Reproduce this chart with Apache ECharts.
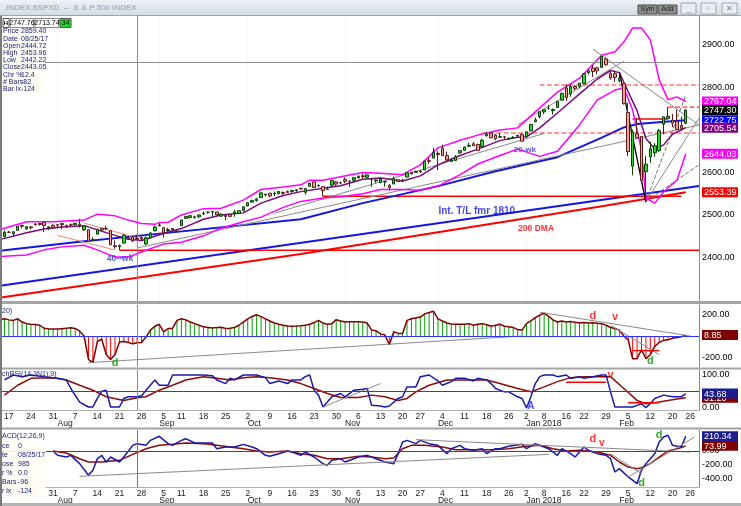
<!DOCTYPE html>
<html><head><meta charset="utf-8">
<script src="https://cdn.jsdelivr.net/npm/echarts@6/dist/echarts.min.js"></script>
<style>html,body{margin:0;padding:0;background:#fff;overflow:hidden}#c{width:741px;height:506px}</style>
</head><body><div id="c"></div><script>
// ---------------- DATA ----------------
const tradingDays = {
  '2017-07': [13,14,17,18,19,20,21,24,25,26,27,28,31],
  '2017-08': [1,2,3,4,7,8,9,10,11,14,15,16,17,18,21,22,23,24,25,28,29,30,31],
  '2017-09': [1,5,6,7,8,11,12,13,14,15,18,19,20,21,22,25,26,27,28,29],
  '2017-10': [2,3,4,5,6,9,10,11,12,13,16,17,18,19,20,23,24,25,26,27,30,31],
  '2017-11': [1,2,3,6,7,8,9,10,13,14,15,16,17,20,21,22,24,27,28,29,30],
  '2017-12': [1,4,5,6,7,8,11,12,13,14,15,18,19,20,21,22,26,27,28,29],
  '2018-01': [2,3,4,5,8,9,10,11,12,16,17,18,19,22,23,24,25,26,29,30,31],
  '2018-02': [1,2,5,6,7,8,9,12,13,14,15,16,20,21,22,23]
};
const futureDays = ['2018-02-26','2018-02-27','2018-02-28'];

const opens = [
2444.99,2449.16,2459.50,2455.88,2463.85,2475.56,2467.40,2472.04,2477.88,2479.97,2482.76,2469.12,2475.94,
2477.10,2480.38,2476.03,2476.88,2477.14,2478.35,2465.35,2465.38,2441.04,2454.96,2468.66,2468.63,2462.95,2427.64,2425.50,2433.75,2444.88,2447.91,2444.72,2447.35,2431.94,2446.06,2462.65,
2474.42,2470.35,2463.83,2468.06,2462.25,2474.52,2491.94,2493.89,2494.56,2495.67,2502.51,2506.29,2506.84,2507.16,2497.26,2499.39,2501.04,2503.30,2503.41,2510.70,
2521.20,2530.34,2533.48,2540.86,2547.44,2551.39,2549.99,2550.62,2552.88,2555.66,2555.57,2557.17,2562.87,2553.39,2567.56,2578.08,2568.66,2566.52,2560.08,2570.26,2577.75,2575.99,
2583.21,2579.46,2581.93,2587.47,2592.11,2588.71,2584.00,2580.18,2576.53,2577.75,2569.45,2572.95,2582.94,2579.49,2589.17,2600.31,2600.42,2602.66,2605.94,2627.82,2633.93,
2645.10,2657.19,2639.78,2626.24,2628.38,2646.21,2652.19,2661.73,2667.59,2665.87,2660.63,2685.92,2692.71,2688.18,2683.02,2684.22,2679.09,2682.10,2686.10,2689.15,
2683.73,2697.85,2719.31,2731.33,2742.67,2751.15,2745.55,2752.97,2770.18,2798.96,2784.99,2802.40,2802.60,2809.16,2835.05,2845.42,2846.24,2847.48,2867.23,2832.74,2832.41,
2816.45,2808.92,2741.06,2614.78,2690.95,2685.01,2601.78,2636.75,2646.27,2651.21,2713.46,2727.14,2722.99,2720.53,2710.42,2715.80];
const highs = [
2449.32,2463.54,2462.82,2460.92,2473.83,2477.62,2472.54,2473.10,2481.24,2481.69,2484.04,2473.53,2477.96,
2478.51,2480.38,2476.03,2480.00,2480.95,2490.87,2474.41,2465.38,2448.09,2468.22,2468.90,2474.93,2465.02,2440.27,2430.58,2454.77,2448.91,2450.39,2453.96,2449.12,2449.19,2460.31,2475.01,
2480.38,2471.97,2469.64,2468.62,2467.11,2488.95,2496.77,2498.37,2498.43,2500.23,2508.32,2507.84,2508.85,2507.16,2503.47,2502.54,2503.51,2511.75,2510.81,2519.44,
2529.23,2535.13,2540.53,2552.51,2549.41,2551.82,2555.23,2555.24,2555.33,2557.65,2559.47,2559.71,2564.11,2562.36,2575.44,2578.29,2572.18,2567.40,2567.07,2582.98,2580.03,2578.29,
2588.40,2581.11,2588.42,2593.38,2597.02,2595.47,2586.50,2583.81,2587.66,2579.66,2572.84,2590.09,2583.96,2584.64,2601.19,2600.94,2604.21,2606.41,2627.69,2634.89,2657.74,
2650.62,2665.19,2648.72,2634.41,2640.99,2651.65,2660.33,2669.72,2671.88,2668.09,2679.63,2694.97,2694.44,2691.01,2692.64,2685.35,2682.74,2685.64,2687.66,2692.12,
2695.89,2714.37,2729.29,2743.45,2748.51,2759.14,2750.80,2767.56,2787.85,2807.54,2807.04,2805.83,2810.33,2833.03,2842.24,2852.97,2848.56,2872.87,2870.62,2837.75,2839.26,
2835.96,2808.92,2763.39,2701.04,2727.67,2685.27,2638.67,2672.61,2668.84,2702.10,2731.51,2754.42,2737.60,2747.75,2731.26,2747.76];
const lows = [
2441.69,2446.69,2457.16,2450.34,2463.85,2468.43,2465.06,2466.32,2474.91,2474.94,2459.93,2464.66,2468.53,
2471.14,2466.48,2468.85,2472.08,2475.88,2470.32,2462.08,2437.75,2437.85,2454.96,2461.61,2463.86,2430.01,2420.69,2417.35,2433.67,2441.42,2436.19,2442.22,2439.03,2428.20,2443.77,2462.65,
2473.85,2446.55,2459.20,2460.29,2459.40,2474.52,2490.37,2492.14,2491.35,2493.16,2499.92,2503.19,2496.67,2499.00,2496.54,2488.03,2495.12,2495.91,2502.93,2507.99,
2520.40,2528.85,2531.80,2540.02,2543.79,2541.60,2544.86,2547.95,2548.31,2552.09,2552.64,2554.69,2559.67,2547.92,2567.56,2564.33,2565.58,2544.00,2559.80,2565.94,2568.25,2572.15,
2574.92,2566.17,2576.77,2585.66,2584.35,2585.02,2566.33,2575.57,2574.48,2566.56,2557.45,2572.95,2577.62,2578.24,2589.17,2595.23,2600.42,2598.87,2605.44,2620.32,2633.93,
2605.52,2639.03,2627.73,2624.75,2626.53,2644.10,2651.47,2659.78,2662.85,2652.01,2659.14,2685.92,2680.74,2676.11,2682.40,2678.13,2677.96,2678.91,2682.69,2673.61,
2682.36,2697.77,2719.07,2727.92,2737.60,2747.86,2736.06,2752.78,2769.64,2768.64,2778.38,2792.56,2798.08,2808.12,2830.59,2824.81,2830.94,2846.18,2851.48,2818.27,2813.04,
2812.70,2759.97,2638.17,2593.07,2681.33,2580.56,2532.69,2622.45,2637.08,2648.87,2689.82,2725.11,2706.76,2701.29,2697.77,2713.74];
const closes = [
2447.83,2459.27,2459.14,2460.61,2473.83,2473.45,2472.54,2469.91,2477.13,2477.83,2475.42,2472.10,2470.30,
2476.35,2477.57,2472.16,2476.83,2480.91,2474.92,2474.02,2438.21,2441.32,2465.84,2464.61,2468.11,2430.01,2425.55,2428.37,2452.51,2444.04,2438.97,2443.05,2444.24,2446.30,2457.59,2471.65,
2476.55,2457.85,2465.54,2465.10,2461.43,2488.11,2496.48,2498.37,2495.62,2500.23,2503.87,2506.65,2508.24,2500.60,2502.22,2496.66,2496.84,2507.04,2510.06,2519.36,
2529.12,2534.58,2537.74,2552.07,2549.33,2544.73,2550.64,2555.24,2550.93,2553.17,2557.64,2559.36,2561.26,2562.10,2575.21,2564.98,2569.13,2557.15,2560.40,2581.07,2572.83,2575.26,
2579.36,2579.85,2587.84,2591.13,2590.64,2594.38,2584.62,2582.30,2584.84,2578.87,2564.62,2585.64,2578.85,2582.14,2599.03,2597.08,2602.42,2601.42,2627.04,2626.07,2647.58,
2642.22,2639.44,2629.57,2629.27,2636.98,2651.50,2659.99,2664.11,2662.85,2652.01,2675.81,2690.16,2681.47,2679.25,2684.57,2683.34,2680.50,2682.62,2687.54,2673.61,
2695.81,2713.06,2723.99,2743.15,2747.71,2751.29,2748.23,2767.56,2786.24,2776.42,2802.56,2798.03,2810.30,2832.97,2839.13,2837.54,2839.25,2872.87,2853.53,2822.43,2823.81,
2821.98,2762.13,2648.94,2695.14,2681.66,2581.00,2619.55,2656.00,2662.94,2698.63,2731.20,2732.22,2716.26,2701.33,2703.96,2747.30];

// main-panel indicator lines, [bar number, value] read at points along each line
const upperBand = [[0,2466],[1,2469],[6,2484],[12,2484],[19,2488],[22,2502],[26,2498],[29,2488],[32,2480],[35,2478],[36,2482],[38,2483],[41,2500],[46,2515],[50,2516],[55,2535],[59,2560],[64,2566],[68,2571],[70,2582],[73,2582],[77,2590],[82,2600],[86,2598],[91,2595],[95,2618],[99,2658],[104,2676],[108,2688],[113,2700],[117,2705],[122,2752],[126,2789],[131,2822],[135,2865],[136,2876],[139,2884],[141,2907],[143,2940],[145,2940],[147,2912],[149,2818],[151,2771],[153,2778],[155,2767.04]];
const lowerBand = [[0,2402],[1,2403],[6,2406],[10,2418],[14,2425],[19,2429],[22,2418],[26,2401],[29,2401],[32,2413],[37,2432],[41,2436],[46,2451],[50,2469],[55,2484],[59,2495],[64,2518],[68,2532],[73,2540],[77,2543],[82,2550],[86,2560],[91,2560],[95,2558],[99,2568],[104,2595],[108,2620],[113,2640],[117,2655],[122,2638],[126,2650],[131,2712],[135,2771],[139,2794],[141,2799],[143,2747],[145,2653],[146,2540],[148,2528],[150,2554],[152,2573],[153,2582],[155,2644.03]];
const purpleMA = [[0,2443],[1,2445],[6,2458],[10,2467],[14,2472],[19,2475],[22,2465],[26,2452],[29,2443],[32,2440],[35,2450],[38,2460],[41,2468],[46,2490],[50,2500],[55,2505],[59,2528],[64,2546],[68,2555],[73,2563],[77,2569],[82,2584],[86,2587],[91,2580],[95,2592],[99,2618],[104,2640],[108,2655],[113,2675],[117,2683],[119,2684],[122,2705],[126,2740],[131,2785],[135,2820],[138,2840],[140,2835],[142,2790],[144,2745],[146,2680],[148,2655],[150,2665],[152,2690],[155,2705.54]];
const blueMA = [[0,2416],[1,2417],[18,2437],[35,2455],[68,2490],[82,2528],[99,2568],[112,2603],[126,2636],[136,2682],[141,2706],[144,2714],[151,2720],[155,2722.75]];
const dma200 = [[0,2305],[1,2307],[68,2408],[135,2519],[155,2553.39]];
const intTrendLine = [[0,2333.8],[158,2568.2]];
const augLowLine = [[27,2417.35],[158,2417.35]];
const octLowLine = [[73,2544.00],[154,2544.00]];
const grayLines = [[[31,2422.4],[158,2711.8]], [[62,2504],[123,2692]], [[117,2712],[141,2862]], [[134,2890.6],[158,2711.8]], [[146,2532],[158,2728]]];
const grayDashLines = [[[146,2532],[155,2782]], [[146,2532],[158,2618]]];
const blackLines = [[[140,2836.5],[146,2530]]];
const salmonLines = [[[13,2452],[26,2417.6]], [[19,2481],[31,2446]]];
const redDashLevels = [[[122,2805.9],[158,2805.9]], [[151,2754],[158,2754]], [[109,2692.9],[158,2692.9]]];
const redShortLevels = [[[143,2725.9],[151,2725.9]]];
const cursorDate = '2017-08-25';
const cursorPrice = 2859.40;

// oscillator panel (20)
const osc20 = [150,160,150,145,160,130,115,110,108,100,72,66,64,64,68,72,76,70,45,0,-218,-248,-52,-30,-173,-218,-173,-55,-52,-60,-73,-62,-60,-10,55,91,109,39,70,70,145,160,150,130,115,100,85,80,75,78,82,70,72,78,100,130,160,182,197,180,160,140,121,110,100,92,91,92,95,100,110,125,145,120,110,115,152,140,130,133,133,132,130,120,55,48,20,9,-82,39,24,24,145,160,168,176,206,218,230,160,140,121,112,109,109,110,115,100,110,115,105,91,100,110,91,85,80,60,55,115,140,170,195,212,182,150,130,140,130,135,128,122,125,120,124,118,115,100,79,70,55,0,-36,-212,-212,-127,-212,-173,-97,-61,-40,-36,-21,-15,-6,8.85];
const oscGrayLines = [[[20,-248],[118,0]], [[122,221],[156,0]], [[138,100],[149,-173]]];
const oscRedLevels = [[[143,-136],[149,-136]]];

// Stoch RSI panel
const stochFast = [[1,85],[3,100],[5,95],[7,100],[10,95],[12,92],[13,90],[15,85],[16,59],[18,18],[20,3],[21,3],[22,29],[23,51],[24,54],[25,3],[27,3],[28,29],[29,34],[31,34],[32,37],[33,54],[35,85],[36,69],[38,69],[39,100],[41,100],[43,100],[46,100],[48,98],[49,85],[51,74],[52,90],[53,85],[55,100],[56,100],[58,100],[60,92],[61,74],[63,82],[65,74],[66,85],[68,85],[69,95],[70,100],[71,54],[72,39],[73,3],[74,18],[75,34],[77,44],[78,34],[80,54],[82,57],[83,59],[84,8],[86,6],[87,3],[88,6],[90,29],[91,34],[92,64],[94,64],[95,95],[97,100],[99,82],[100,69],[102,80],[103,90],[105,90],[107,82],[108,90],[110,85],[111,74],[112,59],[114,49],[115,49],[117,34],[118,29],[119,0],[120,34],[121,74],[122,95],[123,100],[125,100],[126,95],[128,100],[129,90],[131,95],[132,90],[134,95],[136,100],[137,100],[138,49],[139,3],[141,3],[143,3],[144,8],[145,13],[146,1],[147,13],[148,29],[150,39],[152,34],[154,34],[155,43.68]];
const stochSlow = [[1,39],[4,69],[7,90],[12,92],[15,85],[18,69],[21,54],[24,34],[28,23],[31,31],[33,34],[36,54],[39,69],[42,85],[46,95],[49,90],[52,85],[55,92],[58,95],[61,92],[65,85],[68,74],[71,59],[74,44],[77,32],[81,32],[84,39],[87,34],[90,23],[92,29],[94,49],[97,69],[101,85],[104,85],[107,85],[110,85],[113,74],[117,59],[120,49],[123,64],[126,80],[129,92],[132,95],[136,95],[138,95],[141,59],[144,23],[146,13],[149,18],[153,27],[155,31.2]];
const stochRedLevels = [[[128,78],[137,78]], [[142,16],[149,16]]];
const stochGrayLines = [[[73,3],[86,74]]];

// MACD panel
const macdLine = [[12,0],[13,-62],[15,-86],[16,-62],[18,-181],[20,-347],[21,-276],[22,-110],[23,-62],[24,-157],[25,-86],[27,-157],[28,-86],[30,81],[31,105],[33,81],[34,152],[36,210],[38,105],[39,81],[41,152],[42,176],[44,114],[46,114],[48,114],[49,33],[51,57],[53,57],[55,95],[57,57],[58,33],[60,-62],[61,-76],[63,-38],[65,0],[66,-14],[68,-62],[69,-14],[71,-86],[73,-181],[74,-205],[75,-133],[77,-110],[78,-157],[81,-86],[83,-62],[85,-110],[87,-157],[89,-181],[90,-38],[91,129],[92,152],[94,105],[95,152],[97,105],[99,81],[101,-38],[102,33],[104,81],[105,33],[107,10],[109,33],[110,-38],[112,33],[113,33],[115,67],[118,95],[119,33],[121,105],[122,81],[124,33],[126,-62],[127,33],[129,-38],[130,-86],[132,57],[133,10],[135,-38],[137,-62],[138,-110],[139,-300],[140,-252],[142,-371],[144,-467],[145,-276],[146,-181],[148,-38],[149,129],[150,200],[151,224],[152,81],[154,57],[155,210.34]];
const macdSignal = [[12,0],[15,-29],[18,-110],[20,-157],[23,-157],[27,-133],[30,-48],[33,33],[36,81],[39,95],[42,114],[46,105],[49,81],[52,57],[55,33],[58,0],[61,-14],[65,0],[68,-38],[71,-62],[74,-110],[77,-110],[81,-76],[84,-86],[87,-110],[89,-100],[91,33],[93,81],[96,81],[100,57],[103,19],[107,19],[111,19],[115,33],[119,67],[122,81],[125,33],[128,0],[131,10],[135,-14],[138,-62],[140,-157],[142,-229],[144,-252],[145,-238],[147,-181],[149,-86],[151,0],[154,48],[155,73.99]];
const macdGrayLines = [[[18,-362],[124,-48]], [[94,162],[156,-14]], [[138,-38],[145,-324]], [[142,-371],[157,200]]];

// right-axis tick labels (drawn before / after the coloured value tags)
const priceTicksBefore = [2400,2500,2600,2800], priceTicksAfter = [2900];
const oscTicksBefore = [-200,200], oscTicksAfter = [];
const stochTicksBefore = [100], stochTicksAfter = [0];
const macdTicksBefore = [-400,0], macdTicksAfter = [-200];

// info box values
const infoRows = [['Chr %','12.4'],['# Bars','-82'],['Bar lx','-124']];
const macdInfoRows = [['ce','0'],['te','08/25/17'],['ose','985'],['r %','0.0'],['Bars','-96'],['r lx','-124']];

// ---------------- BUILD ----------------
const cats = [];
for (const ym in tradingDays) for (const d of tradingDays[ym]) cats.push(ym + '-' + String(d).padStart(2,'0'));
const nTraded = cats.length;
if ([opens,highs,lows,closes,osc20].some(a => a.length !== nTraded)) throw new Error('length mismatch ' + [opens,highs,lows,closes,osc20].map(a=>a.length).join(',') + ' vs ' + nTraded);
futureDays.forEach(d => cats.push(d));
const dObj = cats.map(s => new Date(s + 'T00:00:00Z'));
const weekStart = cats.map((s,i) => i > 0 && dObj[i].getUTCDay() < dObj[i-1].getUTCDay());
const monthStart = cats.map((s,i) => i > 0 && s.slice(5,7) !== cats[i-1].slice(5,7));
const MON = ['Jan','Feb','Mar','Apr','May','Jun','Jul','Aug','Sep','Oct','Nov','Dec'];
const last = a => a[a.length-1][1];

const candleData = closes.map((c,i) => [opens[i], c, lows[i], highs[i]]);
const FONT = 'Liberation Sans';
const GL = -4.95, GR = 39.1;

const tagBase = {color:'#fff',padding:[1,2,0,2],width:32,fontSize:9,fontFamily:FONT};
const richStyles = {
  mag:Object.assign({backgroundColor:'#ff00ff'}, tagBase),
  blk:Object.assign({backgroundColor:'#000000'}, tagBase),
  blu:Object.assign({backgroundColor:'#0000ff'}, tagBase),
  pur:Object.assign({backgroundColor:'#800080'}, tagBase),
  red:Object.assign({backgroundColor:'#ff0000'}, tagBase),
  drd:Object.assign({backgroundColor:'#800000'}, tagBase),
  nav:Object.assign({backgroundColor:'#1c1c8c'}, tagBase)
};
function yAx(grid, min, max, before, tags, after) {
  const values = before.concat(tags.map(t => t.v), after);
  return {
    type:'value', gridIndex:grid, position:'right', min, max,
    splitLine:{show:false}, axisTick:{show:false},
    axisLine:{show:true, onZero:false, lineStyle:{color:'#8a8a8a', width:1}},
    axisLabel:{
      margin:3, fontSize:9, color:'#000', fontFamily:FONT,
      customValues: values,
      formatter: v => { for (const t of tags) if (Math.abs(v - t.v) < 1e-6) return '{' + t.s + '|' + v.toFixed(2) + '}'; return v.toFixed(2); },
      rich: richStyles
    }
  };
}
const baseX = g => ({type:'category', gridIndex:g, data:cats, boundaryGap:false, position:'bottom',
  axisLine:{show:false}, axisTick:{show:false}, axisLabel:{show:false}, splitLine:{show:false}});
const dayX = g => Object.assign(baseX(g), {
  axisLine:{show:true, onZero:false, lineStyle:{color:'#b0b0b0'}},
  axisLabel:{show:true, interval:(i) => weekStart[i], formatter:v => String(+v.slice(8)), fontSize:8.5, color:'#1a1a1a', margin:2, fontFamily:FONT}
});
const monX = g => Object.assign(baseX(g), {
  offset:7,
  axisLabel:{show:true, interval:(i) => monthStart[i], align:'left', fontSize:8.5, color:'#1a1a1a', margin:2, fontFamily:FONT,
    formatter:v => { const m = +v.slice(5,7); return m === 1 ? 'Jan ' + v.slice(0,4) : MON[m-1]; }}
});
const xMain = baseX(0);
xMain.splitLine = {show:true, interval:(i) => monthStart[i], lineStyle:{color:'#ececec', type:'dotted'}};

const xAxes = [xMain, baseX(1), dayX(2), monX(2), dayX(3), monX(3)];
const XI = [0,1,2,4];

const yAxes = [
  yAx(0, 2297.65, 2968.24, priceTicksBefore, [
    {v:last(upperBand), s:'mag'}, {v:closes[nTraded-1], s:'blk'}, {v:last(blueMA), s:'blu'},
    {v:last(purpleMA), s:'pur'}, {v:last(lowerBand), s:'mag'}, {v:last(dma200), s:'red'}], priceTicksAfter),
  yAx(1, -288.4, 288.4, oscTicksBefore, [{v:osc20[nTraded-1], s:'drd'}], oscTicksAfter),
  yAx(2, -6.06, 115.15, stochTicksBefore, [{v:last(stochSlow), s:'drd'}, {v:last(stochFast), s:'nav'}], stochTicksAfter),
  yAx(3, -514.3, 300, macdTicksBefore, [{v:last(macdSignal), s:'drd'}, {v:last(macdLine), s:'nav'}], macdTicksAfter)
];

const series = [];
function line(g, data, color, width, dash, z) {
  series.push({type:'line', xAxisIndex:XI[g], yAxisIndex:g, data, symbol:'none', silent:true,
    lineStyle:{color, width, type:dash || 'solid'}, z: z || 2});
}
function texts(g, items) {
  series.push({type:'scatter', xAxisIndex:XI[g], yAxisIndex:g, symbolSize:1, silent:true, z:8,
    itemStyle:{color:'rgba(0,0,0,0)'},
    data: items.map(it => ({value:[it[0], it[1]], label:{show:true, formatter:it[2], color:it[3], fontSize:it[4],
      fontWeight:'bold', fontFamily:FONT, position: it[5] || 'inside', distance:0}}))});
}

// main panel
line(0, intTrendLine, '#1515e0', 2);
line(0, dma200, '#ff0000', 2);
line(0, augLowLine, '#ff0000', 1.5);
line(0, octLowLine, '#ff0000', 1.5);
line(0, blueMA, '#1515e0', 2);
grayLines.forEach(l => line(0, l, '#8a8a8a', 1));
grayDashLines.forEach(l => line(0, l, '#707070', 1, 'dashed'));
salmonLines.forEach(l => line(0, l, '#f08878', 1));
redDashLevels.forEach(l => line(0, l, '#ff3030', 1.2, 'dashed'));
redShortLevels.forEach(l => line(0, l, '#ff0000', 1.5));
line(0, upperBand, '#ff00ff', 1.5);
line(0, lowerBand, '#ff00ff', 1.5);
line(0, purpleMA, '#7a0a7a', 1.5);
blackLines.forEach(l => line(0, l, '#000000', 1.3, 'solid', 4));
series.push({type:'candlestick', xAxisIndex:0, yAxisIndex:0, data:candleData, barWidth:3, z:5, silent:true,
  itemStyle:{color:'#22dd22', color0:'#f4a095', borderColor:'#0d3d0d', borderColor0:'#5a1a1a', borderWidth:1},
  markLine:{silent:true, symbol:'none', label:{show:false}, lineStyle:{color:'#8c8c8c', width:1, type:'solid'},
    data:[{xAxis:cursorDate}, {yAxis:cursorPrice}]}});
texts(0, [[99, 2509, 'Int. T/L fmr 1810', '#1515e0', 10, 'right'], [117, 2467, '200 DMA', '#ff0000', 8.5, 'right'],
          [24, 2396.5, '40--wk', '#2a2ae0', 8.5, 'right'], [116, 2653, '20-wk', '#2a2ae0', 8, 'right']]);

// oscillator panel
series.push({type:'bar', xAxisIndex:1, yAxisIndex:1, data:osc20, barWidth:1, silent:true, z:2,
  itemStyle:{color: p => p.value >= 0 ? '#00a000' : '#ff0000'},
  markLine:{silent:true, symbol:'none', label:{show:false}, data:[
    {yAxis:0, lineStyle:{color:'#3030ff', width:1.2, type:'solid'}},
    {xAxis:cursorDate, lineStyle:{color:'#8c8c8c', width:1, type:'solid'}}]}});
line(1, osc20.map((v,i) => [i, v]), '#800000', 1.5, 'solid', 3);
oscGrayLines.forEach(l => line(1, l, '#8a8a8a', 1, 'solid', 4));
oscRedLevels.forEach(l => line(1, l, '#ff0000', 1.3, 'solid', 4));
texts(1, [[26, -251, 'd', '#009000', 11], [134, 186, 'd', '#ff0000', 11], [139, 177, 'v', '#ff0000', 11], [147, -233, 'd', '#009000', 11]]);

// stoch RSI panel
series.push({type:'line', xAxisIndex:2, yAxisIndex:2, data:stochSlow, symbol:'none', silent:true, z:2,
  lineStyle:{color:'#8b0a0a', width:1.5},
  markLine:{silent:true, symbol:'none', label:{show:false}, data:[
    {yAxis:50, lineStyle:{color:'#3030ff', width:1.2, type:'solid'}},
    {xAxis:cursorDate, lineStyle:{color:'#8c8c8c', width:1, type:'solid'}}]}});
line(2, stochFast, '#1a1aa6', 1.5, 'solid', 3);
stochRedLevels.forEach(l => line(2, l, '#ff0000', 1.5, 'solid', 4));
stochGrayLines.forEach(l => line(2, l, '#8a8a8a', 1, 'solid', 4));
texts(2, [[120, 6, 'A', '#1a1aff', 10], [138, 100, 'v', '#ff0000', 11]]);

// MACD panel
series.push({type:'line', xAxisIndex:4, yAxisIndex:3, data:macdSignal, symbol:'none', silent:true, z:2,
  lineStyle:{color:'#8b0a0a', width:1.5},
  markLine:{silent:true, symbol:'none', label:{show:false}, data:[
    {yAxis:0, lineStyle:{color:'#3030ff', width:1.2, type:'solid'}},
    {xAxis:cursorDate, lineStyle:{color:'#b050c0', width:1, type:'solid'}}]}});
line(3, macdLine, '#1a1aa6', 1.5, 'solid', 3);
macdGrayLines.forEach(l => line(3, l, '#8a8a8a', 1, 'solid', 4));
texts(3, [[134, 171, 'd', '#ff0000', 11], [136, 114, 'v', '#ff0000', 10], [149, 229, 'd', '#009000', 11], [145, -457, 'd', '#009000', 11]]);

// ---------------- WINDOW CHROME / INFO ----------------
const ci = cats.indexOf(cursorDate);
const mmddyy = s => s.slice(5,7) + '/' + s.slice(8,10) + '/' + s.slice(2,4);
const f7 = '7px "' + FONT + '"';
const navy = '#1e2478';
const g = [];
g.push({type:'rect', shape:{x:0,y:0,width:741,height:16}, style:{fill:new echarts.graphic.LinearGradient(0,0,0,1,[{offset:0,color:'#eef2f7'},{offset:1,color:'#d2dae5'}])}, z:100});
g.push({type:'rect', shape:{x:0,y:15,width:741,height:1}, style:{fill:'#9aa3ae'}, z:100});
g.push({type:'text', x:6, y:8, style:{text:'INDEX:$SPXD  --  S & P 500 INDEX', fill:'#aab3c2', font:'bold 8px "' + FONT + '"', verticalAlign:'middle'}, z:101});
[['Sym',638],['Add',658]].forEach(b => {
  g.push({type:'rect', shape:{x:b[1],y:5,width:19,height:9}, style:{fill:'#8e8e8e', stroke:'#4a4a4a', lineWidth:1}, z:101});
  g.push({type:'text', x:b[1]+9.5, y:9.5, style:{text:b[0], fill:'#1a1a1a', font:'7px "' + FONT + '"', align:'center', verticalAlign:'middle'}, z:102});
});
[[681,'_'],[701,'▫'],[722,'✕']].forEach(b => {
  g.push({type:'rect', shape:{x:b[0],y:3,width:15,height:11}, style:{fill:'#e9edf2', stroke:'#9ea8b4', lineWidth:1}, z:101});
  g.push({type:'text', x:b[0]+7.5, y:8.5, style:{text:b[1], fill:'#7a8594', font:'8px "' + FONT + '"', align:'center', verticalAlign:'middle'}, z:102});
});
// separators and frame
[[301,3,'#a4a4a4'],[367.5,2,'#a4a4a4'],[427.5,2,'#a4a4a4'],[503,3,'#b4b4b4']].forEach(s =>
  g.push({type:'rect', shape:{x:0,y:s[0],width:741,height:s[1]}, style:{fill:s[2]}, z:100}));
g.push({type:'rect', shape:{x:0,y:16,width:2,height:490}, style:{fill:'#7a7a7a'}, z:100});
// main info box
g.push({type:'rect', shape:{x:2,y:27,width:43,height:66}, style:{fill:'rgba(255,253,244,0.85)'}, z:100});
g.push({type:'rect', shape:{x:3,y:18.5,width:6,height:9}, style:{fill:'#fff', stroke:'#555', lineWidth:1}, z:101});
g.push({type:'text', x:6, y:23.5, style:{text:'H', fill:'#000', font:'bold 6px "' + FONT + '"', align:'center', verticalAlign:'middle'}, z:102});
g.push({type:'rect', shape:{x:10,y:18.5,width:24,height:9}, style:{fill:'#fff', stroke:'#888', lineWidth:1}, z:101});
g.push({type:'text', x:22, y:23.5, style:{text:highs[nTraded-1].toFixed(2), fill:'#000', font:f7, align:'center', verticalAlign:'middle'}, z:102});
g.push({type:'rect', shape:{x:35,y:18.5,width:24,height:9}, style:{fill:'#fff', stroke:'#888', lineWidth:1}, z:101});
g.push({type:'text', x:47, y:23.5, style:{text:lows[nTraded-1].toFixed(2), fill:'#000', font:f7, align:'center', verticalAlign:'middle'}, z:102});
g.push({type:'rect', shape:{x:60,y:18.5,width:11,height:9}, style:{fill:'#22dd22', stroke:'#555', lineWidth:1}, z:101});
g.push({type:'text', x:65.5, y:23.5, style:{text:String(Math.round(highs[nTraded-1]-lows[nTraded-1])), fill:'#000', font:f7, align:'center', verticalAlign:'middle'}, z:102});
const mainRows = [['Price', cursorPrice.toFixed(2)], ['Date', mmddyy(cursorDate)], ['Open', opens[ci].toFixed(2)], ['High', highs[ci].toFixed(2)],
  ['Low', lows[ci].toFixed(2)], ['Close', closes[ci].toFixed(2)]].concat(infoRows);
mainRows.forEach((r,i) => {
  g.push({type:'text', x:3, y:31.5 + i*7.2, style:{text:r[0], fill:navy, font:f7, verticalAlign:'middle'}, z:102});
  g.push({type:'text', x:21, y:31.5 + i*7.2, style:{text:r[1], fill:navy, font:f7, verticalAlign:'middle'}, z:102});
});
// panel titles
g.push({type:'text', x:2, y:311, style:{text:'20)', fill:navy, font:f7, verticalAlign:'middle'}, z:102});
g.push({type:'text', x:2, y:374.5, style:{text:'chRSI(14,3N1),9)', fill:navy, font:f7, verticalAlign:'middle'}, z:102});
g.push({type:'rect', shape:{x:2,y:441,width:44,height:56}, style:{fill:'rgba(255,253,244,0.92)'}, z:100});
g.push({type:'text', x:2, y:436, style:{text:'ACD(12,26,9)', fill:navy, font:f7, verticalAlign:'middle'}, z:102});
macdInfoRows.forEach((r,i) => {
  g.push({type:'text', x:2, y:446 + i*9, style:{text:r[0], fill:navy, font:f7, verticalAlign:'middle'}, z:102});
  g.push({type:'text', x:18, y:446 + i*9, style:{text:r[1], fill:navy, font:f7, verticalAlign:'middle'}, z:102});
});

const chart = echarts.init(document.getElementById('c'), null, {renderer:'canvas'});
chart.setOption({
  animation:false,
  backgroundColor:'#ffffff',
  textStyle:{fontFamily:FONT},
  grid:[
    {left:GL, right:GR, top:16, height:285},
    {left:GL, right:GR, top:305, height:62},
    {left:GL, right:GR, top:370, height:40},
    {left:GL, right:GR, top:430, height:57}
  ],
  xAxis:xAxes,
  yAxis:yAxes,
  series,
  graphic:g
});
</script></body></html>
